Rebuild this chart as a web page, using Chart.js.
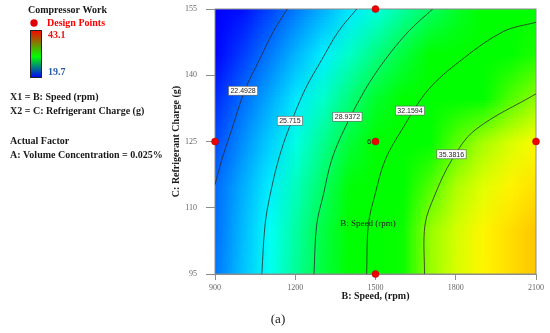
<!DOCTYPE html>
<html>
<head>
<meta charset="utf-8">
<script src="https://cdn.jsdelivr.net/npm/chart.js@4.4.0/dist/chart.umd.min.js"></script>
<style>
body { margin: 0; background: #fff; }
canvas { display: block; }
</style>
</head>
<body>
<canvas id="chart" width="550" height="333"></canvas>
<script>
// axis ticks
const speedTicks = [900, 1200, 1500, 1800, 2100];
const chargeTicks = [95, 110, 125, 140, 155];

// compressor work (rows = charge, cols = speed)
const gridSpeeds = [900, 1000, 1100, 1200, 1300, 1400, 1500, 1600, 1700, 1800, 1900, 2000, 2100];
const gridCharges = [155, 145, 135, 125, 115, 105, 95];
const workGrid = [
    [19.2, 20.4, 21.6, 22.9, 24.1, 25.4, 26.5, 27.7, 28.8, 29.8, 30.7, 31.3, 31.9],
    [20.1, 21.4, 22.8, 24.2, 25.5, 26.9, 28.2, 29.4, 30.5, 31.5, 32.6, 33.5, 34.3],
    [21.0, 22.5, 23.9, 25.4, 26.8, 28.3, 29.7, 31.1, 32.3, 33.1, 34.0, 34.8, 35.5],
    [21.8, 23.3, 24.8, 26.4, 27.9, 29.5, 31.0, 32.5, 33.7, 34.9, 36.0, 37.0, 37.9],
    [22.5, 24.0, 25.5, 27.1, 28.7, 30.4, 32.0, 33.4, 34.8, 36.1, 37.2, 38.3, 39.2],
    [22.6, 24.3, 26.0, 27.6, 29.3, 31.0, 32.6, 34.1, 35.6, 36.9, 38.2, 39.3, 40.4],
    [22.8, 24.5, 26.1, 27.8, 29.4, 31.1, 32.7, 34.1, 35.6, 37.0, 38.2, 39.3, 40.4]
];
const workMin = 19.7;
const workMax = 43.1;

// contour lines, [speed, charge] pairs
const contourLevels = ['22.4928', '25.715', '28.9372', '32.1594', '35.3816'];
const contour1 = [[1170, 155], [1118, 149.9], [1066, 143.5], [1012, 136.7], [962, 127.6], [925, 120.8], [900, 115.2]];
const contour2 = [[1430, 155], [1361, 149.9], [1299, 143.5], [1236, 136.7], [1174, 127.6], [1137, 120.8], [1106, 112.9], [1087, 106.1], [1075, 95]];
const contour3 = [[1714, 155], [1623, 149.9], [1536, 143.5], [1461, 136.7], [1382, 127.6], [1336, 120.8], [1305, 112.9], [1280, 106.1], [1270, 95]];
const contour4 = [[2100, 152], [1978, 149.9], [1822, 143.5], [1697, 136.7], [1598, 127.6], [1536, 120.8], [1498, 112.9], [1473, 106.1], [1467, 95]];
const contour5 = [[2100, 135.8], [1872, 127.6], [1785, 120.8], [1722, 112.9], [1685, 106.1], [1683, 95]];
const labelSpeeds = [1005, 1180, 1395, 1629, 1784];
const labelCharges = [136.5, 129.7, 130.6, 132, 122.1];

// design points
const designSpeeds = [1500, 900, 1500, 2100, 1500];
const designCharges = [155, 125, 125, 125, 95];

const serif = "'Liberation Serif', 'Times New Roman', serif";
const sans = "'Liberation Sans', Arial, sans-serif";

const colorStops = [
    [20.0, [0, 0, 255]],
    [25.9, [0, 255, 255]],
    [30.5, [0, 255, 0]],
    [34.0, [0, 255, 0]],
    [35.4, [140, 255, 0]],
    [37.8, [255, 255, 0]],
    [40.5, [255, 195, 0]],
    [43.1, [255, 0, 0]]
];

function workColor(v) {
    for (let i = 1; i < colorStops.length; i++) {
        if (v <= colorStops[i][0] || i === colorStops.length - 1) {
            const a = colorStops[i - 1], b = colorStops[i];
            let t = (v - a[0]) / (b[0] - a[0]);
            t = Math.max(0, Math.min(1, t));
            return [0, 1, 2].map(k => Math.round(a[1][k] + (b[1][k] - a[1][k]) * t));
        }
    }
}

const heatmapPlugin = {
    id: 'heatmap',
    beforeDatasetsDraw(chart) {
        const ctx = chart.ctx, xs = chart.scales.x, ys = chart.scales.y;
        const cols = gridSpeeds.length, rows = gridCharges.length;
        const off = document.createElement('canvas');
        off.width = cols;
        off.height = rows;
        const octx = off.getContext('2d');
        const img = octx.createImageData(cols, rows);
        for (let r = 0; r < rows; r++) {
            for (let c = 0; c < cols; c++) {
                const col = workColor(workGrid[r][c]);
                const i = (r * cols + c) * 4;
                img.data[i] = col[0];
                img.data[i + 1] = col[1];
                img.data[i + 2] = col[2];
                img.data[i + 3] = 255;
            }
        }
        octx.putImageData(img, 0, 0);
        const left = xs.getPixelForValue(gridSpeeds[0]);
        const right = xs.getPixelForValue(gridSpeeds[cols - 1]);
        const top = ys.getPixelForValue(gridCharges[0]);
        const bottom = ys.getPixelForValue(gridCharges[rows - 1]);
        ctx.save();
        ctx.imageSmoothingEnabled = true;
        ctx.drawImage(off, 0.5, 0.5, cols - 1, rows - 1, left, top, right - left, bottom - top);
        ctx.strokeStyle = '#8c8c8c';
        ctx.lineWidth = 1;
        ctx.strokeRect(left, top, right - left, bottom - top);
        ctx.restore();
    }
};

const labelPlugin = {
    id: 'contourLabels',
    afterDatasetsDraw(chart) {
        const ctx = chart.ctx, xs = chart.scales.x, ys = chart.scales.y;
        ctx.save();
        ctx.font = '7px ' + sans;
        ctx.textAlign = 'center';
        ctx.textBaseline = 'middle';
        contourLevels.forEach((txt, i) => {
            const x = xs.getPixelForValue(labelSpeeds[i]);
            const y = ys.getPixelForValue(labelCharges[i]);
            const w = ctx.measureText(txt).width + 4;
            const h = 9;
            ctx.fillStyle = '#fff';
            ctx.fillRect(x - w / 2, y - h / 2, w, h);
            ctx.strokeStyle = '#555';
            ctx.lineWidth = 0.6;
            ctx.strokeRect(x - w / 2, y - h / 2, w, h);
            ctx.fillStyle = '#222';
            ctx.fillText(txt, x, y + 0.5);
        });
        // replicate count at centre point
        ctx.font = '8px ' + sans;
        ctx.textAlign = 'right';
        ctx.fillStyle = '#222';
        ctx.fillText('6', xs.getPixelForValue(designSpeeds[2]) - 4, ys.getPixelForValue(designCharges[2]) + 0.5);
        // factor name inside plot
        ctx.font = '9px ' + serif;
        ctx.textAlign = 'center';
        ctx.fillText('B: Speed (rpm)', xs.getPixelForValue(1472), ys.getPixelForValue(106.3));
        ctx.restore();
    }
};

const panelPlugin = {
    id: 'sidePanel',
    afterDraw(chart) {
        const ctx = chart.ctx;
        ctx.save();
        ctx.textBaseline = 'middle';
        ctx.textAlign = 'left';
        ctx.font = 'bold 10px ' + serif;
        ctx.fillStyle = '#1a1a1a';
        ctx.fillText('Compressor Work', 28, 10);
        ctx.beginPath();
        ctx.arc(34, 23, 3.7, 0, Math.PI * 2);
        ctx.fillStyle = '#e00000';
        ctx.fill();
        ctx.fillStyle = '#ff0000';
        ctx.fillText('Design Points', 47, 23);
        // colour bar
        const grad = ctx.createLinearGradient(0, 30, 0, 78);
        grad.addColorStop(0, '#ff0000');
        grad.addColorStop(0.55, '#00ff00');
        grad.addColorStop(1, '#0000ff');
        ctx.fillStyle = grad;
        ctx.fillRect(30, 30, 12, 48);
        ctx.strokeStyle = '#222';
        ctx.lineWidth = 1;
        ctx.strokeRect(30.5, 30.5, 11, 47);
        ctx.fillStyle = '#ee1111';
        ctx.fillText(String(workMax), 48, 35);
        ctx.fillStyle = '#2a5caa';
        ctx.fillText(String(workMin), 48, 72);
        ctx.fillStyle = '#1a1a1a';
        ctx.fillText('X1 = B: Speed (rpm)', 10, 97);
        ctx.fillText('X2 = C: Refrigerant Charge (g)', 10, 111);
        ctx.fillText('Actual Factor', 10, 141);
        ctx.fillText('A: Volume Concentration = 0.025%', 10, 155);
        ctx.font = '13px ' + serif;
        ctx.textAlign = 'center';
        ctx.fillText('(a)', 278, 320);
        ctx.restore();
    }
};

function toPoints(list) {
    return list.map(p => ({ x: p[0], y: p[1] }));
}

window.onload = function() {
    const contours = [contour1, contour2, contour3, contour4, contour5];
    const datasets = contours.map(c => ({
        data: toPoints(c),
        showLine: true,
        borderColor: '#2b2b2b',
        borderWidth: 0.8,
        pointRadius: 0,
        tension: 0.35,
        fill: false
    }));
    datasets.push({
        data: designSpeeds.map((s, i) => ({ x: s, y: designCharges[i] })),
        pointRadius: 3.5,
        pointBackgroundColor: '#ee0000',
        pointBorderColor: '#b00000',
        pointBorderWidth: 0.5,
        showLine: false,
        clip: false
    });

    var ctx = document.getElementById('chart').getContext('2d');
    new Chart(ctx, {
        type: 'scatter',
        data: { datasets: datasets },
        options: {
            responsive: false,
            animation: false,
            layout: { padding: { left: 166, top: 9, right: 14, bottom: 31 } },
            plugins: { legend: { display: false }, tooltip: { enabled: false } },
            scales: {
                x: {
                    type: 'linear',
                    min: 900,
                    max: 2100,
                    afterBuildTicks: s => { s.ticks = speedTicks.map(v => ({ value: v })); },
                    afterFit: s => { s.height = 28; },
                    grid: { drawOnChartArea: false, tickLength: 6, color: '#8c8c8c' },
                    border: { color: '#8c8c8c' },
                    ticks: { color: '#666', font: { family: serif, size: 8 }, padding: 3, maxRotation: 0, callback: v => String(v) },
                    title: {
                        display: true,
                        text: 'B: Speed, (rpm)',
                        color: '#1a1a1a',
                        font: { family: serif, size: 10, weight: 'bold' },
                        padding: { top: 2, bottom: 0 }
                    }
                },
                y: {
                    type: 'linear',
                    min: 95,
                    max: 155,
                    afterBuildTicks: s => { s.ticks = chargeTicks.map(v => ({ value: v })); },
                    afterFit: s => { s.width = 49; s.paddingTop = 5; s.paddingBottom = 5; },
                    grid: { drawOnChartArea: false, tickLength: 9, color: '#8c8c8c' },
                    border: { color: '#8c8c8c' },
                    ticks: { color: '#666', font: { family: serif, size: 8 }, padding: 9, callback: v => String(v) },
                    title: {
                        display: true,
                        text: 'C: Refrigerant Charge (g)',
                        color: '#1a1a1a',
                        font: { family: serif, size: 10, weight: 'bold' },
                        padding: { top: 4, bottom: 0 }
                    }
                }
            }
        },
        plugins: [heatmapPlugin, labelPlugin, panelPlugin]
    });
};
</script>
</body>
</html>
